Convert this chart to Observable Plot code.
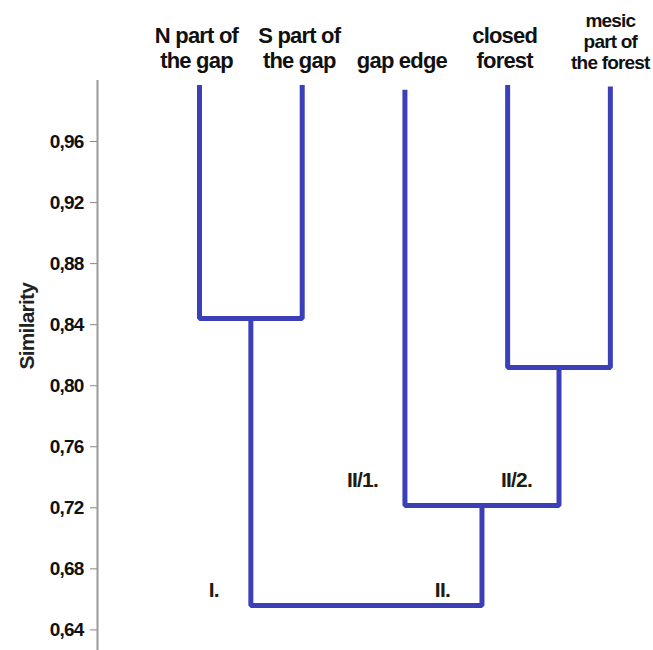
<!DOCTYPE html>
<html><head><meta charset="utf-8">
<script src="https://cdn.jsdelivr.net/npm/d3@7"></script>
<script src="https://cdn.jsdelivr.net/npm/@observablehq/plot@0.6"></script>
<style>body{margin:0;background:#fff} svg{display:block} svg text{letter-spacing:-0.8px}</style>
</head><body><div id="chart"></div>
<script>
// Leaves (in dendrogram order) and the similarity at which each leaf line starts
const leafNames = ["N part of\nthe gap", "S part of\nthe gap", "gap edge", "closed\nforest", "mesic\npart of\nthe forest"];
const leafHeights = [0.997, 0.997, 0.994, 0.997, 0.996];
// Merges: node ids 0-4 are leaves, 5.. are merges in order
const mergeLeft = [0, 3, 2, 5];
const mergeRight = [1, 4, 6, 7];
const mergeSimilarity = [0.844, 0.812, 0.7215, 0.656];
// Cluster labels and the node each one names
const clusterLabels = ["I.", "II.", "II/1.", "II/2."];
const clusterNodes = [5, 7, 2, 6];
const clusterLevel = [1, 1, 2, 2];
// Axis
const tickValues = [0.64, 0.68, 0.72, 0.76, 0.80, 0.84, 0.88, 0.92, 0.96];
const yDomain = [0.6265, 1.0];
const xDomain = [-0.993, 4.42];

// Build node table
const nLeaves = leafNames.length;
const nodeX = leafNames.map((_, i) => i);
const nodeH = leafHeights.slice();
const parent = [];
mergeLeft.forEach((l, m) => {
  const id = nLeaves + m;
  nodeX[id] = (nodeX[l] + nodeX[mergeRight[m]]) / 2;
  nodeH[id] = mergeSimilarity[m];
  parent[l] = id; parent[mergeRight[m]] = id;
});
const links = [];
mergeLeft.forEach((l, m) => {
  const r = mergeRight[m], h = mergeSimilarity[m];
  links.push({m, x: nodeX[l], y: nodeH[l]});
  links.push({m, x: nodeX[l], y: h});
  links.push({m, x: nodeX[r], y: h});
  links.push({m, x: nodeX[r], y: nodeH[r]});
});
const leaves = leafNames.map((name, i) => ({name, x: i}));
const clusters = clusterLabels.map((label, i) => ({
  label, level: clusterLevel[i], x: nodeX[clusterNodes[i]], y: nodeH[parent[clusterNodes[i]]]
}));

const blue = "#3c40b8";
const font = "'Liberation Sans', Arial, sans-serif";

const chart = Plot.plot({
  width: 653, height: 650,
  marginLeft: 97, marginRight: 0, marginTop: 80, marginBottom: 0,
  style: {fontFamily: font, background: "#fff", overflow: "visible"},
  x: {domain: xDomain, axis: null},
  y: {domain: yDomain},
  marks: [
    Plot.axisY({ticks: tickValues, tickFormat: d => d.toFixed(2).replace(".", ","), tickSize: 7, tickPadding: 7,
      fontSize: 19, fontWeight: "bold", stroke: "#888", fill: "#111", label: null}),
    Plot.ruleX([xDomain[0]], {stroke: "#999", strokeWidth: 2}),
    Plot.text(["Similarity"], {frameAnchor: "left", rotate: -90, dx: -70, dy: 4, fontSize: 21, fontWeight: "bold", fill: "#222"}),
    Plot.line(links, {x: "x", y: "y", z: "m", stroke: blue, strokeWidth: 5, strokeLinejoin: "miter", strokeLinecap: "butt"}),
    Plot.text(leaves.slice(0, 4), {x: "x", text: "name", frameAnchor: "top", lineAnchor: "bottom", dy: -13, dx: -3,
      fontSize: 22, fontWeight: "bold", lineHeight: 1.12, fill: "#111"}),
    Plot.text(leaves.slice(4), {x: "x", text: "name", frameAnchor: "top", lineAnchor: "bottom", dy: -12,
      fontSize: 19, fontWeight: "bold", lineHeight: 1.1, fill: "#111"}),
    Plot.text(clusters.filter(d => d.level === 1), {x: "x", y: "y", text: "label", textAnchor: "end", dx: -32, dy: -15,
      fontSize: 21, fontWeight: "bold", fill: "#221a10"}),
    Plot.text(clusters.filter(d => d.level === 2), {x: "x", y: "y", text: "label", textAnchor: "end", dx: -27, dy: -25,
      fontSize: 21, fontWeight: "bold", fill: "#221a10"})
  ]
});
document.getElementById("chart").appendChild(chart);
</script>
</body></html>
